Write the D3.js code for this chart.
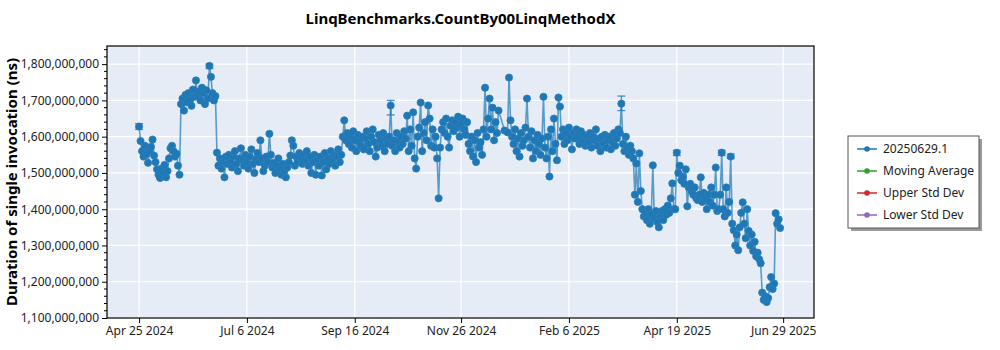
<!DOCTYPE html>
<html><head><meta charset="utf-8">
<script src="https://cdn.jsdelivr.net/npm/d3@7"></script>
<style>body{margin:0;background:#fff;} text{font-family:"Noto Sans",sans-serif;}</style>
</head><body><svg id="c" width="1000" height="350"></svg>
<script>
// ---- data ----
const chartTitle = "LinqBenchmarks.CountBy00LinqMethodX";
const yTitle = "Duration of single invocation (ns)";
const startDate = "2024-04-25";           // first day of the daily series
// daily values, millions of ns (null = no run that day)
const valuesM = [
 1628,1588,1560,1545,1575,1552,1528,1560,1572,1592,
 1548,1530,1510,1495,1486,1512,1500,1522,1488,1505,
 1540,1568,1575,1560,1545,1553,1520,1495,
 1690,1705,1672,1715,1695,1720,1700,1685,1730,1710,
 1755,1712,1725,1700,1735,1720,1690,1728,1705,1795,1765,1720,1700,1712,
 1556,1520,1540,1512,1530,1488,1545,1525,1550,
 1530,1515,1545,1560,1525,1505,1540,1568,1535,1520,
 1550,1530,1512,1545,1565,1525,1500,1538,1555,1530,
 1590,1540,1505,1520,1545,1530,1608,1550,1515,1528,
 1500,1520,1540,1510,1495,1525,1505,1488,1515,1530,
 1548,1590,1575,1520,1545,1530,1555,1540,1525,1550,
 1535,1560,1520,1545,1500,1530,1550,1495,1538,1520,
 1545,1493,1530,1555,1510,1540,1525,1560,1535,1550,1520,1545,1565,1530,1550,
 1600,1645,1590,1610,1580,1600,1570,1615,1590,1560,1605,1585,1575,1600,1565,
 1595,1615,1580,1560,1600,1620,1585,1545,1570,1605,1590,1575,1610,1560,1595,
 1580,1600,1686,1575,1590,1560,1610,1585,1570,1600,
 1580,1615,1595,1658,1560,1620,1575,1667,1540,1512,
 1600,1625,1694,1560,1610,1640,1590,1686,1650,1575,
 1620,1570,1600,1540,
 1430,1570,1620,1640,1610,1650,1600,1570,1630,1645,1615,
 1640,1625,1655,1600,1635,1650,1620,1605,1640,1580,
 1560,1600,1545,1590,1530,1610,1570,1585,1550,1620,
 1735,1600,1650,1705,1620,1680,1590,1640,1610,
 1672,null,null,null,1617,null,1612,1763,1645,
 1600,1580,1620,1560,1595,1545,1610,1575,1590,1625,
 1705,
 1600,1570,1615,1540,1590,1560,1605,1580,1550,1595,
 1710,1570,1540,1600,1490,1620,1560,1650,1580,1535,
 1708,1683,1600,1620,1580,1610,1590,1625,1600,1565,
 1610,1595,1620,1600,1580,1615,1590,1605,1575,1600,
 1585,1610,1570,1600,1590,1620,1575,1595,1560,1600,
 1580,1605,1570,1590,1600,1565,1585,1610,1575,1595,1620,
 1610,1691,1580,1560,1600,1570,1550,1575,1560,
 1540,1440,1526,1420,1554,1450,1400,1380,
 1390,1370,1400,1360,1385,1521,1375,1395,1365,1350,
 1380,1395,1370,1400,1385,1410,1390,1430,1471,1400,
 1400,1556,1500,1520,1480,1490,1470,1510,1408,1460,
 1470,1450,1440,1460,1430,1425,1440,1488,1420,1445,
 1430,1400,1440,1420,1460,1410,1440,1515,1395,1400,
 1440,1556,1400,1380,1460,1390,1420,1545,1360,1342,
 1300,1330,1287,1350,1390,1419,1360,1320,1400,1340,
 1300,1330,1285,1310,1270,1280,1262,1251,
 1170,1150,1160,1144,1155,1185,1213,1180,1195,
 1389,1360,1372,1348
];
// error bars: date, low (M ns), high (M ns)
const errDates = ["2024-04-25","2024-06-11","2024-10-10","2025-03-13","2025-04-19","2025-05-19","2025-05-25"];
const errLowM  = [1620,1788,1660,1672,1548,1548,1540];
const errHighM = [1636,1800,1700,1712,1562,1562,1552];
const xTickDates  = ["2024-04-25","2024-07-06","2024-09-16","2024-11-26","2025-02-06","2025-04-19","2025-06-29"];
const xTickLabels = ["Apr 25 2024","Jul 6 2024","Sep 16 2024","Nov 26 2024","Feb 6 2025","Apr 19 2025","Jun 29 2025"];
const yTicksM = [1100,1200,1300,1400,1500,1600,1700,1800];
const legendNames  = ["20250629.1","Moving Average","Upper Std Dev","Lower Std Dev"];
const legendColors = ["#1f77b4","#2ca02c","#d62728","#9467bd"];

// ---- build ----
const parse = d3.utcParse("%Y-%m-%d");
const DAY = 864e5;
const t0 = parse(startDate);
const pts = valuesM.map((v,i)=>({date:new Date(+t0 + i*DAY), v: v==null?null:v*1e6})).filter(d=>d.v!=null);

const svg = d3.select("#c");
const L=107, R=814, T=46, B=318;
const x = d3.scaleUtc().domain([new Date(+t0 - 21.4*DAY), new Date(+t0 + 450.6*DAY)]).range([L,R]);
const y = d3.scaleLinear().domain([1100e6,1850e6]).range([B,T]);

svg.append("rect").attr("x",L).attr("y",T).attr("width",R-L).attr("height",B-T).attr("fill","#e5ecf6");

// gridlines
svg.append("g").selectAll("line").data(yTicksM).join("line")
  .attr("x1",L).attr("x2",R).attr("y1",d=>y(d*1e6)).attr("y2",d=>y(d*1e6))
  .attr("stroke","#fff").attr("stroke-width",1.2);
svg.append("g").selectAll("line").data(xTickDates).join("line")
  .attr("y1",T).attr("y2",B).attr("x1",d=>x(parse(d))).attr("x2",d=>x(parse(d)))
  .attr("stroke","#fff").attr("stroke-width",1.2);

const plot = svg.append("g");
// line
plot.append("path").datum(pts)
  .attr("d", d3.line().x(d=>x(d.date)).y(d=>y(d.v)))
  .attr("fill","none").attr("stroke","#1f77b4").attr("stroke-opacity",0.7).attr("stroke-width",1.6);
// error bars
const errs = errDates.map((d,i)=>({date:parse(d), lo:errLowM[i]*1e6, hi:errHighM[i]*1e6}));
const eg = plot.append("g").attr("stroke","#1f77b4").attr("stroke-width",1.3).attr("stroke-opacity",0.8);
errs.forEach(e=>{
  const cx = x(e.date);
  eg.append("line").attr("x1",cx).attr("x2",cx).attr("y1",y(e.lo)).attr("y2",y(e.hi));
  eg.append("line").attr("x1",cx-4).attr("x2",cx+4).attr("y1",y(e.lo)).attr("y2",y(e.lo));
  eg.append("line").attr("x1",cx-4).attr("x2",cx+4).attr("y1",y(e.hi)).attr("y2",y(e.hi));
});
// markers
plot.append("g").selectAll("circle").data(pts).join("circle")
  .attr("cx",d=>x(d.date)).attr("cy",d=>y(d.v)).attr("r",3.6)
  .attr("fill","#1f77b4").attr("stroke","#2a7fbd").attr("stroke-width",0.8);

// frame
svg.append("rect").attr("x",L).attr("y",T).attr("width",R-L).attr("height",B-T)
  .attr("fill","none").attr("stroke","#000").attr("stroke-width",1.2);

// y axis
const yAxis = d3.axisLeft(y).tickValues(yTicksM.map(d=>d*1e6)).tickSize(5).tickFormat(d3.format(",.0f"));
const ya = svg.append("g").attr("transform",`translate(${L},0)`).call(yAxis);
ya.select(".domain").remove();
ya.selectAll("text").attr("font-size",12).attr("fill","#222").attr("font-family","Noto Sans");
const minorY = d3.range(1100,1850,20).filter(v=>v%100!==0);
svg.append("g").selectAll("line").data(minorY).join("line")
  .attr("x1",L-3).attr("x2",L).attr("y1",d=>y(d*1e6)).attr("y2",d=>y(d*1e6)).attr("stroke","#000");

// x axis
const xAxis = d3.axisBottom(x).tickValues(xTickDates.map(parse)).tickSize(5)
  .tickFormat((d,i)=>xTickLabels[i]);
const xa = svg.append("g").attr("transform",`translate(0,${B})`).call(xAxis);
xa.select(".domain").remove();
xa.selectAll("text").attr("font-size",12).attr("fill","#222").attr("font-family","Noto Sans");

// titles
svg.append("text").attr("x",(L+R)/2).attr("y",24).attr("text-anchor","middle")
  .attr("font-size",15).attr("font-weight","bold").attr("fill","#000").text(chartTitle);
svg.append("text").attr("transform",`translate(17,${(T+B)/2}) rotate(-90)`).attr("text-anchor","middle")
  .attr("font-size",15).attr("font-weight","bold").attr("fill","#000").text(yTitle);

// legend
const lg = svg.append("g").attr("transform","translate(848,136)");
lg.append("rect").attr("x",3).attr("y",3).attr("width",131).attr("height",92).attr("fill","#9a9a9a");
lg.append("rect").attr("x",0).attr("y",0).attr("width",131).attr("height",92).attr("fill","#fff").attr("stroke","#555");
legendNames.forEach((n,i)=>{
  const yy = 13 + i*22;
  lg.append("line").attr("x1",9).attr("x2",29).attr("y1",yy).attr("y2",yy).attr("stroke",legendColors[i]).attr("stroke-width",1.5);
  lg.append("circle").attr("cx",19).attr("cy",yy).attr("r",2.8).attr("fill",legendColors[i]);
  lg.append("text").attr("x",35).attr("y",yy+4).attr("font-size",12).attr("fill","#222").text(n);
});
</script></body></html>
